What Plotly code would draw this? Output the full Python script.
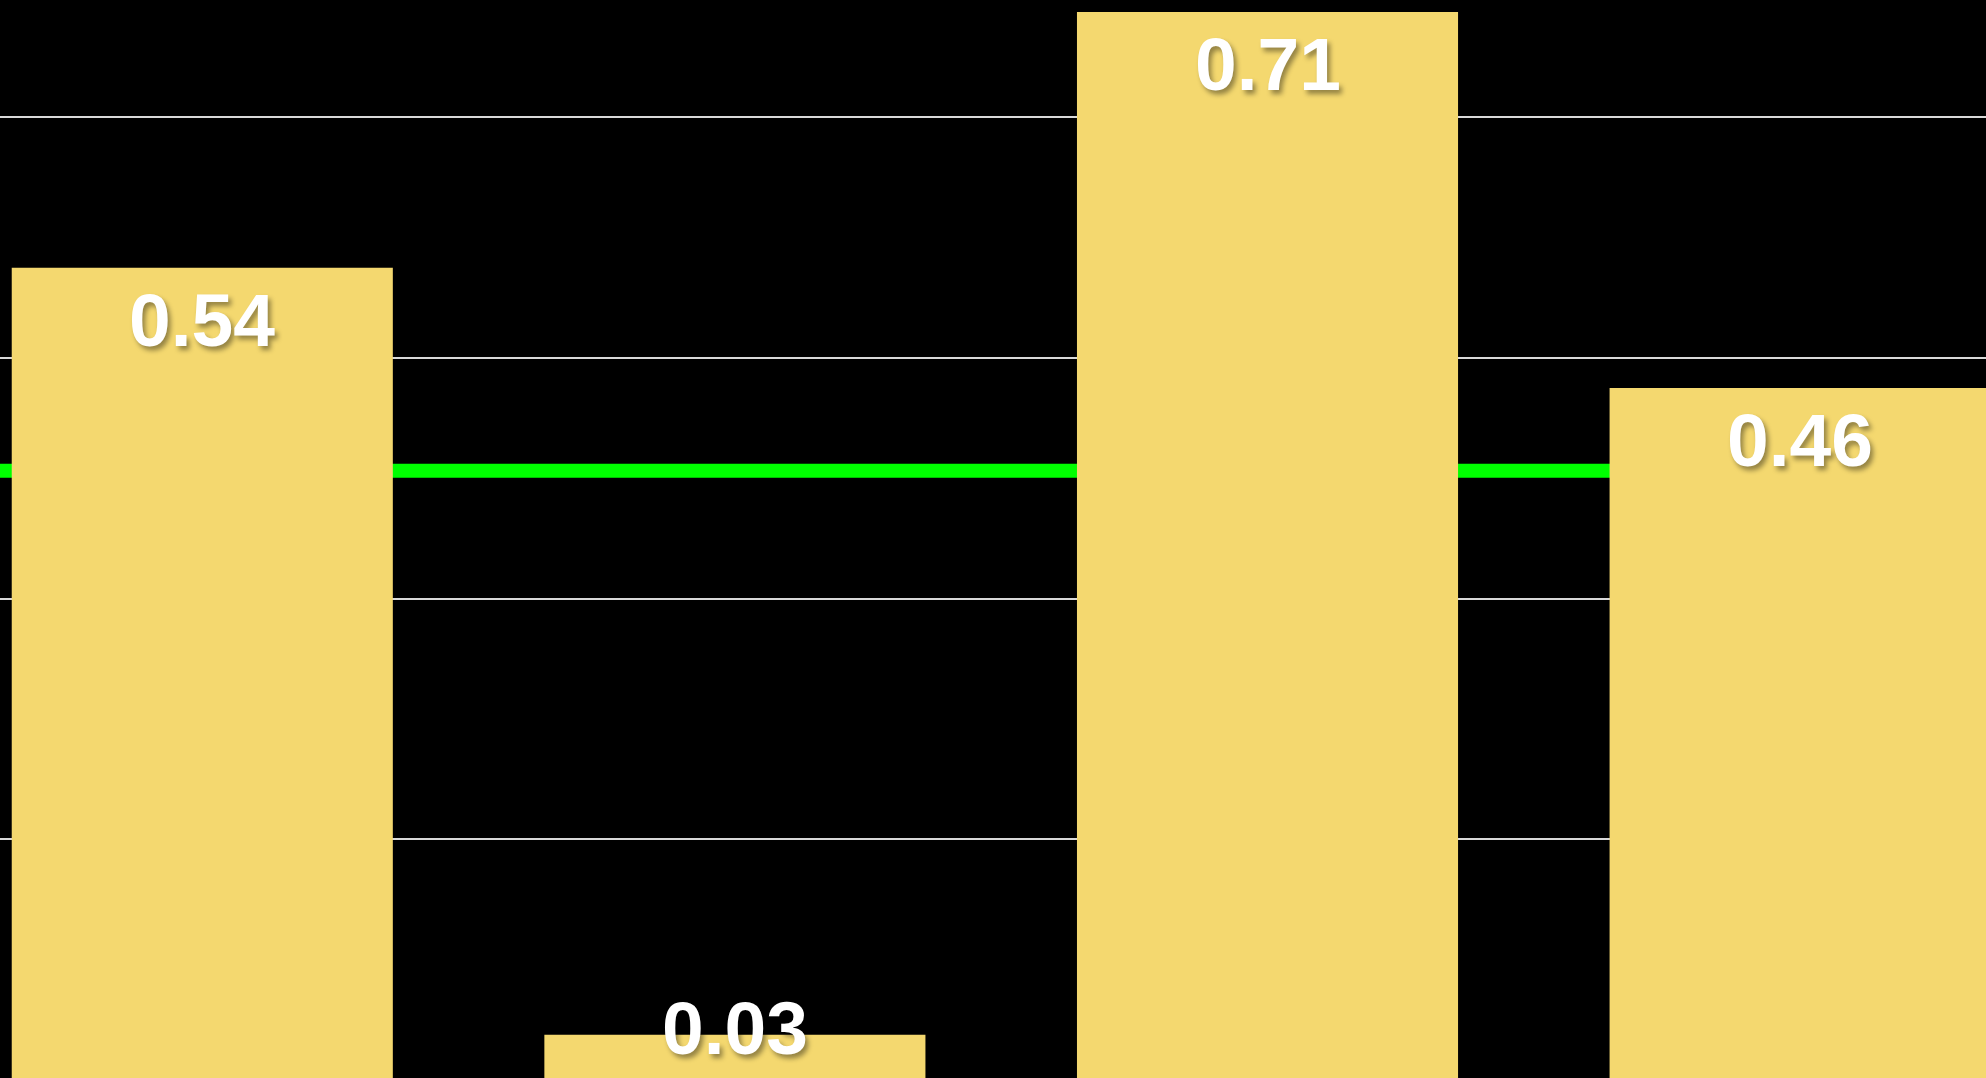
import plotly.graph_objects as go

categories = ["A", "B", "C", "D"]
values = [0.54, 0.03, 0.71, 0.46]
labels = ["0.54", "0.03", "0.71", "0.46"]
target = 0.405
grid_step = 0.16

bar_col = "#F4D86F"
label_font = dict(family="Liberation Sans, Arial, Helvetica", size=75, color="white",
                  weight="bold", shadow="3px 4px 5px rgba(0,0,0,0.4)")

fig = go.Figure()
fig.add_trace(go.Bar(x=categories, y=values, marker=dict(color=bar_col, line=dict(width=0)),
                     hoverinfo="skip", showlegend=False))

# green reference line, behind the bars
fig.add_shape(type="line", xref="paper", x0=0, x1=1, yref="y", y0=target, y1=target,
              line=dict(color="#00FF00", width=14), layer="below")

# value labels near top of each bar; short bars keep the label just above the bottom
for c, v, t in zip(categories, values, labels):
    if v > 0.1:
        fig.add_annotation(x=c, y=v, text=t, showarrow=False, yanchor="top", yshift=-8,
                           font=label_font)
    else:
        fig.add_annotation(x=c, yref="paper", y=0, text=t, showarrow=False, yanchor="bottom",
                           yshift=6, font=label_font)

fig.update_layout(
    width=1986, height=1078, margin=dict(l=0, r=0, t=0, b=0),
    paper_bgcolor="black", plot_bgcolor="black", bargap=0.2845,
    xaxis=dict(range=[-0.3798, 3.349], showgrid=False, showticklabels=False, zeroline=False,
               showline=False, ticks=""),
    yaxis=dict(range=[0.0013, 0.718], tick0=0, dtick=grid_step, showgrid=True,
               gridcolor="rgba(255,255,255,0.85)", gridwidth=1.5, showticklabels=False,
               zeroline=False, showline=False, ticks=""),
)

fig.write_html("out.html", config={"displayModeBar": False},
               post_script="document.body.style.margin='0';document.body.style.background='black';")
